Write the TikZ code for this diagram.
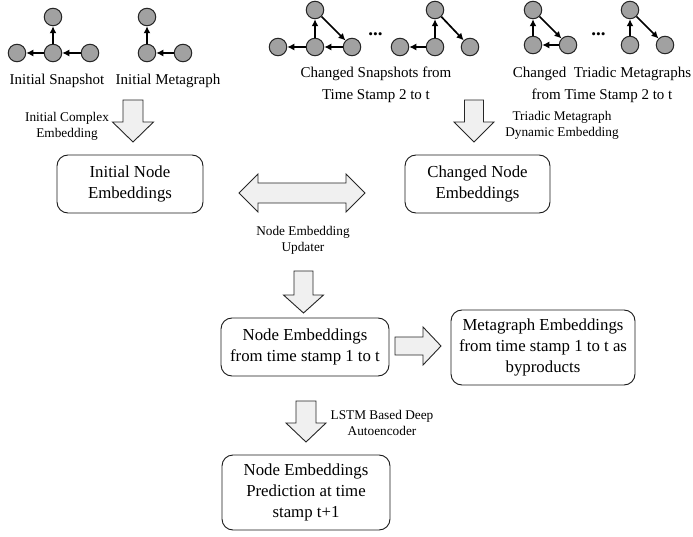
\documentclass[tikz,border=0pt]{standalone}
\usepackage{fontspec}
\setmainfont{Liberation Serif}
\usetikzlibrary{arrows.meta}
\begin{document}
\begin{tikzpicture}[x=1pt,y=-1pt,
  gn/.style={circle, draw=black!85, fill=black!37, line width=1pt, minimum size=17.5pt, inner sep=0pt},
  ge/.style={-{Latex[length=7pt,width=7pt]}, line width=1.7pt},
  box/.style={draw=black!90, rounded corners=11pt, line width=0.9pt, align=center,
              font=\fontsize{16.8}{21}\selectfont, inner sep=0pt},
  bigarrow/.style={draw=black!85, fill=black!6, line width=0.9pt, line join=miter},
  lbl/.style={align=center, font=\fontsize{15}{22}\selectfont, inner sep=0pt},
  slbl/.style={align=center, font=\fontsize{13.3}{16}\selectfont, inner sep=0pt},
  dots/.style={font=\fontsize{19}{20}\selectfont\bfseries, inner sep=0pt, anchor=base}
]
\useasboundingbox (0,0) rectangle (693,537);

% ---------- Initial snapshot ----------
\node[gn] (s1t) at (53,17) {};
\node[gn] (s1l) at (17,53) {};
\node[gn] (s1c) at (53,53) {};
\node[gn] (s1r) at (90,53) {};
\draw[ge] (s1c) -- (s1t);
\draw[ge] (s1c) -- (s1l);
\draw[ge] (s1r) -- (s1c);

% ---------- Initial metagraph ----------
\node[gn] (m1t) at (147,17) {};
\node[gn] (m1c) at (147,53) {};
\node[gn] (m1r) at (183,53) {};
\draw[ge] (m1c) -- (m1t);
\draw[ge] (m1r) -- (m1c);

\node[lbl] (lis) at (57,81) {Initial Snapshot};
\node[lbl] (lim) at (168,81) {Initial Metagraph};

% ---------- Changed snapshots ----------
\node[gn] (cat) at (315,10) {};
\node[gn] (cal) at (278,47) {};
\node[gn] (cac) at (315,47) {};
\node[gn] (car) at (352,47) {};
\draw[ge] (cac) -- (cat);
\draw[ge] (cat) -- (car);
\draw[ge] (cac) -- (cal);
\draw[ge] (car) -- (cac);

\node[dots] (d1) at (375.5,36) {...};

\node[gn] (cbt) at (435,10) {};
\node[gn] (cbl) at (400,47) {};
\node[gn] (cbc) at (435,47) {};
\node[gn] (cbr) at (470,47) {};
\draw[ge] (cbc) -- (cbt);
\draw[ge] (cbt) -- (cbr);
\draw[ge] (cbc) -- (cbl);

\node[lbl] (lcs) at (376,85) {Changed Snapshots from\\Time Stamp 2 to t};

% ---------- Changed triadic metagraphs ----------
\node[gn] (mat) at (533,10) {};
\node[gn] (mal) at (533,45) {};
\node[gn] (mar) at (568,45) {};
\draw[ge] (mal) -- (mat);
\draw[ge] (mat) -- (mar);
\draw[ge] (mar) -- (mal);

\node[dots] (d2) at (598.5,36) {...};

\node[gn] (mbt) at (630,10) {};
\node[gn] (mbl) at (630,45) {};
\node[gn] (mbr) at (665,45) {};
\draw[ge] (mbl) -- (mbt);
\draw[ge] (mbt) -- (mbr);

\node[lbl] (lct) at (602,85) {Changed\ \ Triadic Metagraphs\\from Time Stamp 2 to t};

% ---------- Block arrows ----------
\draw[bigarrow] (123,100) -- (143,100) -- (143,122) -- (153.5,122) -- (133,142)
   -- (112.5,122) -- (123,122) -- cycle;
\draw[bigarrow] (464.5,100) -- (483.5,100) -- (483.5,122) -- (494,122) -- (474,142)
   -- (454,122) -- (464.5,122) -- cycle;
\draw[bigarrow] (239,193) -- (258,174) -- (258,183) -- (346,183) -- (346,174)
   -- (365,193) -- (346,212) -- (346,203) -- (258,203) -- (258,212) -- cycle;
\draw[bigarrow] (294,271) -- (313,271) -- (313,295) -- (323.5,295) -- (303.5,313)
   -- (283.5,295) -- (294,295) -- cycle;
\draw[bigarrow] (395,337) -- (423,337) -- (423,327) -- (441,346) -- (423,365)
   -- (423,355) -- (395,355) -- cycle;
\draw[bigarrow] (296,401) -- (316,401) -- (316,423) -- (326,423) -- (306,442)
   -- (286,423) -- (296,423) -- cycle;

% ---------- Small labels ----------
\node[slbl] (l1) at (67,126) {Initial Complex\\Embedding};
\node[slbl] (l2) at (562,125) {Triadic Metagraph\\Dynamic Embedding};
\node[slbl] (l3) at (303,240) {Node Embedding\\Updater};
\node[slbl] (l4) at (382,423) {LSTM Based Deep\\Autoencoder};

% ---------- Boxes ----------
\node[box, minimum width=146pt, minimum height=58pt] (ini) at (130,184) {Initial Node\\Embeddings};
\node[box, minimum width=145pt, minimum height=58pt] (chg) at (477.5,184) {Changed Node\\Embeddings};
\node[box, minimum width=168pt, minimum height=58pt] (ne) at (305,347) {Node Embeddings\\from time stamp 1 to t};
\node[box, minimum width=184pt, minimum height=75pt] (me) at (543,347.5) {Metagraph Embeddings\\from time stamp 1 to t as\\byproducts};
\node[box, minimum width=168pt, minimum height=75pt] (pr) at (306,492.5) {Node Embeddings\\Prediction at time\\stamp t+1};
\end{tikzpicture}
\end{document}
